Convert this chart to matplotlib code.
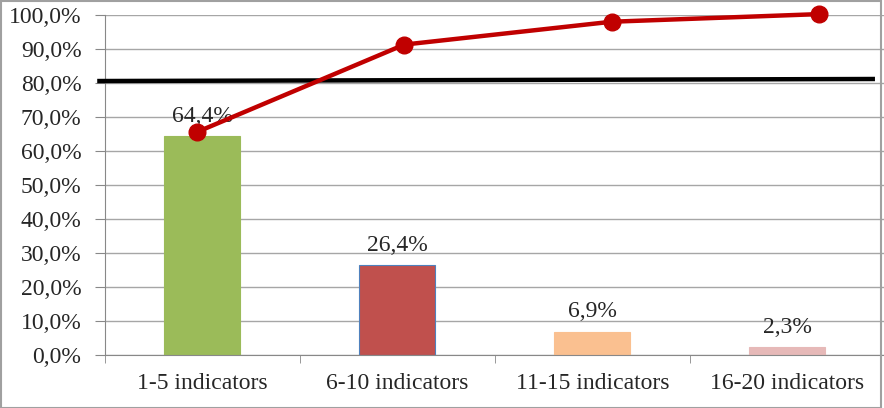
import matplotlib
matplotlib.use("Agg")
import matplotlib.pyplot as plt
from matplotlib.ticker import FuncFormatter
from matplotlib.patches import Rectangle

categories = ["1-5 indicators", "6-10 indicators", "11-15 indicators", "16-20 indicators"]
shares = [64.4, 26.4, 6.9, 2.3]
cumulative = [64.4, 90.8, 97.7, 100.0]
threshold = [80.6, 81.2]
bar_colors = ["#9BBB59", "#C0504D", "#FAC090", "#E6B9B8"]
edge_colors = ["#9BBB59", "#4F81BD", "#FAC090", "#E6B9B8"]

plt.rcParams['font.family'] = ['Liberation Serif', 'DejaVu Serif']
FS = 17

fig = plt.figure(figsize=(8.84, 4.08), dpi=100)
rect = [0.1188, 0.130, 0.882, 0.833]
ax = fig.add_axes(rect)

x = list(range(len(categories)))
ax.bar(x, shares, width=0.39, color=bar_colors, edgecolor=edge_colors, linewidth=0.8, zorder=2)
for xi, v in zip(x, shares):
    ax.text(xi, v + 2.8, f"{v:.1f}%".replace(".", ","), ha="center", va="bottom",
            fontsize=FS, color="#262626", zorder=3)

ax.plot([-0.54, 3.45], threshold, color="black", linewidth=3.2, zorder=4,
        solid_capstyle="butt", clip_on=False)

ax.set_xlim(-0.5, 3.5)
ax.set_ylim(0, 100)
ax.set_yticks(range(0, 101, 10))
ax.yaxis.set_major_formatter(FuncFormatter(lambda v, p: f"{v:.1f}%".replace(".", ",")))
ax.set_xticks(x)
ax.set_xticklabels(categories)
ax.set_xticks([-0.5, 0.5, 1.5, 2.5, 3.5], minor=True)
ax.tick_params(axis="x", which="major", length=0, pad=13, labelsize=FS, colors="#262626")
ax.tick_params(axis="x", which="minor", length=6, color="#888888", direction="out")
ax.tick_params(axis="y", length=7, color="#888888", labelsize=FS, colors="#262626", pad=10)
ax.grid(axis="y", color="#A6A6A6", linewidth=1, zorder=0)
for s in ["top", "right"]:
    ax.spines[s].set_visible(False)
ax.spines["left"].set_color("#888888")
ax.spines["bottom"].set_color("#888888")

# overlaid cumulative line (its own slightly offset scale, as in the reference)
ax2 = fig.add_axes(rect, frameon=False)
ax2.plot(x, cumulative, color="#C00000", linewidth=3.2, marker="o", markersize=12,
         zorder=5, clip_on=False)
ax2.set_xlim(-0.443, 3.316)
ax2.set_ylim(-2.87, 99.7)
ax2.set_xticks([])
ax2.set_yticks([])

fig.patches.append(Rectangle((0.001, 0.001), 0.996, 0.996, transform=fig.transFigure,
                             fill=False, edgecolor="#A0A0A0", linewidth=1.5))

fig.savefig("out.png", dpi=100)
